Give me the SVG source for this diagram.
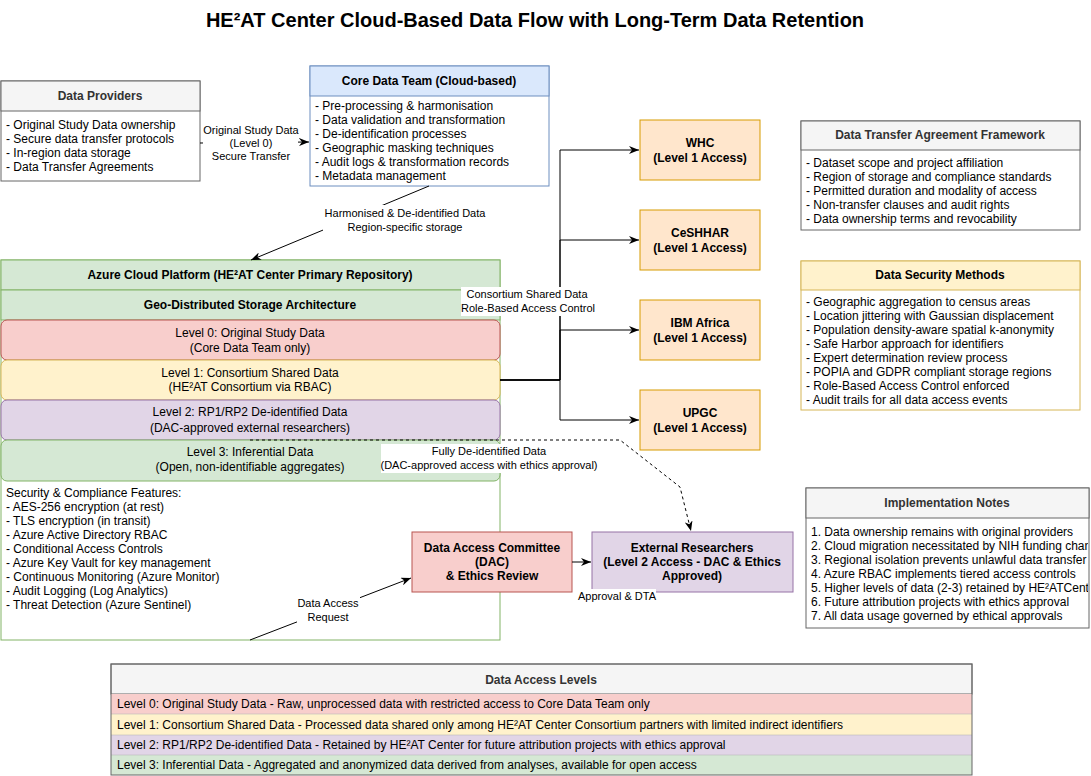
<svg xmlns="http://www.w3.org/2000/svg" width="1091" height="776" viewBox="0 0 1091 776">
<defs>
<style>
text{font-family:"Liberation Sans",Arial,Helvetica,sans-serif;font-size:12px;fill:#000}
.b{font-weight:bold}
.c{text-anchor:middle}
.h{font-weight:bold;fill:#333;text-anchor:middle}
.lbl{font-size:11px;text-anchor:middle}
.gray{fill:#f5f5f5;stroke:#666}
.white{fill:#fff;stroke:#666}
.red{fill:#f8cecc;stroke:#b85450}
.yel{fill:#fff2cc;stroke:#d6b656}
.pur{fill:#e1d5e7;stroke:#9673a6}
.grn{fill:#d5e8d4;stroke:#82b366}
.org{fill:#ffe6cc;stroke:#d79b00}
.blu{fill:#dae8fc;stroke:#6c8ebf}
.edge{fill:none;stroke:#000;stroke-width:1}
.bg{fill:#fff;stroke:none}
</style>
<marker id="arr" viewBox="0 0 10 8" refX="10" refY="4" markerWidth="10" markerHeight="8" markerUnits="userSpaceOnUse" orient="auto"><path d="M0,0 L10,4 L0,8 L3,4 z" fill="#000"/></marker>
<clipPath id="implClip"><rect x="806" y="518" width="282" height="110"/></clipPath>
</defs>
<rect width="1091" height="776" fill="#fff"/>
<text x="535" y="27" class="b c" style="font-size:20px">HE²AT Center Cloud-Based Data Flow with Long-Term Data Retention</text>

<g id="data-providers">
<rect x="1" y="81" width="199" height="100" class="white"/>
<rect x="1" y="81" width="199" height="30" class="gray"/>
<text x="100" y="100" class="h">Data Providers</text>
<text x="6" y="129">- Original Study Data ownership</text>
<text x="6" y="143">- Secure data transfer protocols</text>
<text x="6" y="157">- In-region data storage</text>
<text x="6" y="171">- Data Transfer Agreements</text>
</g>

<g id="core-data-team">
<rect x="310" y="66" width="239" height="120" fill="#fff" stroke="#6c8ebf"/>
<rect x="310" y="66" width="239" height="30" class="blu"/>
<text x="429" y="85" class="b c">Core Data Team (Cloud-based)</text>
<text x="315" y="110">- Pre-processing &amp; harmonisation</text>
<text x="315" y="124">- Data validation and transformation</text>
<text x="315" y="138">- De-identification processes</text>
<text x="315" y="152">- Geographic masking techniques</text>
<text x="315" y="166">- Audit logs &amp; transformation records</text>
<text x="315" y="180">- Metadata management</text>
</g>

<g id="azure-platform">
<rect x="1" y="260" width="499" height="380" fill="#fff" stroke="#82b366"/>
<rect x="1" y="260" width="499" height="30" class="grn"/>
<rect x="1" y="290" width="499" height="30" class="grn"/>
<text x="250" y="279" class="b c">Azure Cloud Platform (HE²AT Center Primary Repository)</text>
<text x="250" y="309" class="b c">Geo-Distributed Storage Architecture</text>
<text x="6" y="497">Security &amp; Compliance Features:</text>
<text x="6" y="511">- AES-256 encryption (at rest)</text>
<text x="6" y="525">- TLS encryption (in transit)</text>
<text x="6" y="539">- Azure Active Directory RBAC</text>
<text x="6" y="553">- Conditional Access Controls</text>
<text x="6" y="567">- Azure Key Vault for key management</text>
<text x="6" y="581">- Continuous Monitoring (Azure Monitor)</text>
<text x="6" y="595">- Audit Logging (Log Analytics)</text>
<text x="6" y="609">- Threat Detection (Azure Sentinel)</text>
</g>

<g id="level0">
<rect x="1" y="320" width="499" height="40" rx="6" class="red"/>
<text x="250" y="337" class="c">Level 0: Original Study Data</text>
<text x="250" y="352" class="c">(Core Data Team only)</text>
</g>
<g id="level1">
<rect x="1" y="360" width="499" height="40" rx="6" class="yel"/>
<text x="250" y="377" class="c">Level 1: Consortium Shared Data</text>
<text x="250" y="391" class="c">(HE²AT Consortium via RBAC)</text>
</g>
<g id="level2">
<rect x="1" y="400" width="499" height="40" rx="6" class="pur"/>
<text x="250" y="416" class="c">Level 2: RP1/RP2 De-identified Data</text>
<text x="250" y="432" class="c">(DAC-approved external researchers)</text>
</g>
<g id="level3">
<rect x="1" y="440" width="499" height="41" rx="6" class="grn"/>
<text x="250" y="456" class="c">Level 3: Inferential Data</text>
<text x="250" y="471" class="c">(Open, non-identifiable aggregates)</text>
</g>

<g id="whc">
<rect x="640" y="120" width="120" height="60" class="org"/>
<text x="700" y="147" class="b c">WHC</text>
<text x="700" y="162" class="b c">(Level 1 Access)</text>
</g>
<g id="ceshhar">
<rect x="640" y="210" width="120" height="60" class="org"/>
<text x="700" y="237" class="b c">CeSHHAR</text>
<text x="700" y="252" class="b c">(Level 1 Access)</text>
</g>
<g id="ibm-africa">
<rect x="640" y="300" width="120" height="60" class="org"/>
<text x="700" y="327" class="b c">IBM Africa</text>
<text x="700" y="342" class="b c">(Level 1 Access)</text>
</g>
<g id="upgc">
<rect x="640" y="390" width="120" height="60" class="org"/>
<text x="700" y="417" class="b c">UPGC</text>
<text x="700" y="432" class="b c">(Level 1 Access)</text>
</g>

<g id="dta-framework">
<rect x="801" y="121" width="279" height="109" class="white"/>
<rect x="801" y="121" width="279" height="29" class="gray"/>
<text x="940" y="139" class="h">Data Transfer Agreement Framework</text>
<text x="806" y="167">- Dataset scope and project affiliation</text>
<text x="806" y="181">- Region of storage and compliance standards</text>
<text x="806" y="195">- Permitted duration and modality of access</text>
<text x="806" y="209">- Non-transfer clauses and audit rights</text>
<text x="806" y="223">- Data ownership terms and revocability</text>
</g>

<g id="data-security-methods">
<rect x="801" y="261" width="279" height="149" fill="#fff" stroke="#d6b656"/>
<rect x="801" y="261" width="279" height="29" class="yel"/>
<text x="940" y="279" class="b c">Data Security Methods</text>
<text x="806" y="306">- Geographic aggregation to census areas</text>
<text x="806" y="320">- Location jittering with Gaussian displacement</text>
<text x="806" y="334">- Population density-aware spatial k-anonymity</text>
<text x="806" y="348">- Safe Harbor approach for identifiers</text>
<text x="806" y="362">- Expert determination review process</text>
<text x="806" y="376">- POPIA and GDPR compliant storage regions</text>
<text x="806" y="390">- Role-Based Access Control enforced</text>
<text x="806" y="404">- Audit trails for all data access events</text>
</g>

<g id="implementation-notes">
<rect x="806" y="488" width="283" height="140" class="white"/>
<rect x="806" y="488" width="283" height="30" class="gray"/>
<text x="947" y="507" class="h">Implementation Notes</text>
<g clip-path="url(#implClip)">
<text x="811" y="536">1. Data ownership remains with original providers</text>
<text x="811" y="550">2. Cloud migration necessitated by NIH funding chan</text>
<text x="811" y="564">3. Regional isolation prevents unlawful data transfer</text>
<text x="811" y="578">4. Azure RBAC implements tiered access controls</text>
<text x="811" y="592">5. Higher levels of data (2-3) retained by HE²ATCente</text>
<text x="811" y="606">6. Future attribution projects with ethics approval</text>
<text x="811" y="620">7. All data usage governed by ethical approvals</text>
</g>
</g>

<g id="dac">
<rect x="412" y="532" width="160" height="60" class="red"/>
<text x="492" y="552" class="b c">Data Access Committee</text>
<text x="492" y="566" class="b c">(DAC)</text>
<text x="492" y="580" class="b c">&amp; Ethics Review</text>
</g>
<g id="external-researchers">
<rect x="592" y="532" width="201" height="60" class="pur"/>
<text x="692" y="552" class="b c">External Researchers</text>
<text x="692" y="566" class="b c">(Level 2 Access - DAC &amp; Ethics</text>
<text x="692" y="580" class="b c">Approved)</text>
</g>

<g id="data-access-levels">
<rect x="111" y="664" width="861" height="30" class="gray"/>
<text x="541" y="684" class="h">Data Access Levels</text>
<rect x="111" y="694" width="861" height="20" fill="#f8cecc" stroke="none"/>
<rect x="111" y="714" width="861" height="21" fill="#fff2cc" stroke="none"/>
<rect x="111" y="735" width="861" height="20" fill="#e1d5e7" stroke="none"/>
<rect x="111" y="755" width="861" height="20" fill="#d5e8d4" stroke="none"/>
<line x1="111" y1="714" x2="972" y2="714" stroke="#bbb" stroke-width="0.6"/>
<line x1="111" y1="735" x2="972" y2="735" stroke="#bbb" stroke-width="0.6"/>
<line x1="111" y1="755" x2="972" y2="755" stroke="#bbb" stroke-width="0.6"/>
<rect x="111" y="664" width="861" height="111" fill="none" stroke="#666"/>
<text x="117" y="708">Level 0: Original Study Data - Raw, unprocessed data with restricted access to Core Data Team only</text>
<text x="117" y="729">Level 1: Consortium Shared Data - Processed data shared only among HE²AT Center Consortium partners with limited indirect identifiers</text>
<text x="117" y="749">Level 2: RP1/RP2 De-identified Data - Retained by HE²AT Center for future attribution projects with ethics approval</text>
<text x="117" y="769">Level 3: Inferential Data - Aggregated and anonymized data derived from analyses, available for open access</text>
</g>

<g id="connectors">
<line x1="200" y1="143" x2="309" y2="142" class="edge" marker-end="url(#arr)"/>
<rect x="203" y="122" width="95" height="40" class="bg"/>
<text x="251" y="134" class="lbl">Original Study Data</text>
<text x="251" y="147" class="lbl">(Level 0)</text>
<text x="251" y="160" class="lbl">Secure Transfer</text>

<line x1="429" y1="186" x2="251" y2="260" class="edge" marker-end="url(#arr)"/>
<rect x="323" y="205" width="165" height="30" class="bg"/>
<text x="405" y="217" class="lbl">Harmonised &amp; De-identified Data</text>
<text x="405" y="231" class="lbl">Region-specific storage</text>

<path d="M500,380 H560 V150 H639" class="edge" marker-end="url(#arr)"/>
<path d="M500,380 H560 V240 H639" class="edge" marker-end="url(#arr)"/>
<path d="M500,380 H560 V330 H639" class="edge" marker-end="url(#arr)"/>
<path d="M500,380 H560 V420 H639" class="edge" marker-end="url(#arr)"/>
<rect x="461" y="287" width="135" height="29" class="bg"/>
<text x="527" y="298" class="lbl">Consortium Shared Data</text>
<text x="528" y="312" class="lbl">Role-Based Access Control</text>

<path d="M250,440 H620 L680,487 L691,531" class="edge" stroke-dasharray="3,3" marker-end="url(#arr)"/>
<rect x="381" y="444" width="217" height="29" class="bg"/>
<text x="489" y="455" class="lbl">Fully De-identified Data</text>
<text x="489" y="469" class="lbl">(DAC-approved access with ethics approval)</text>

<line x1="250" y1="640" x2="411" y2="578" class="edge" marker-end="url(#arr)"/>
<rect x="297" y="595" width="63" height="29" class="bg"/>
<text x="328" y="607" class="lbl">Data Access</text>
<text x="328" y="621" class="lbl">Request</text>

<line x1="572" y1="562" x2="591" y2="562" class="edge" marker-end="url(#arr)"/>
<rect x="578" y="589" width="78" height="14" class="bg"/>
<text x="617" y="600" class="lbl">Approval &amp; DTA</text>
</g>
</svg>
